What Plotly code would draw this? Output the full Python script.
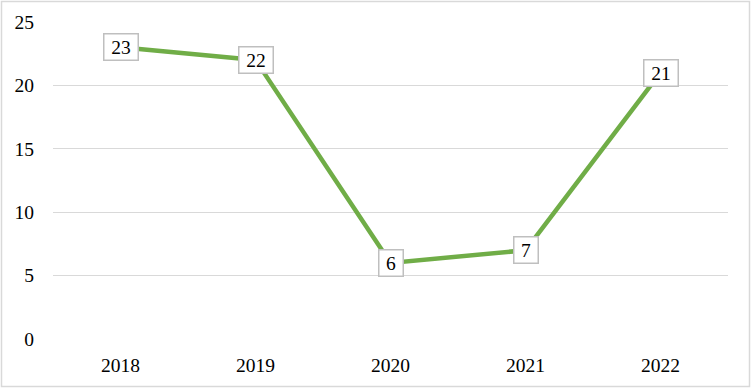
import plotly.graph_objects as go

years = ["2018", "2019", "2020", "2021", "2022"]
values = [23, 22, 6, 7, 21]
y_ticks = [0, 5, 10, 15, 20, 25]

FONT = "Liberation Serif"
FS = 19.5
W, H = 752, 389
L, R, T, B = 53, 24, 22, 50

fig = go.Figure()
fig.add_trace(go.Scatter(
    x=years, y=values, mode="lines",
    line=dict(color="#70AD47", width=4.5),
    hoverinfo="skip", showlegend=False,
))

for i, v in enumerate(values):
    fig.add_annotation(
        x=i, y=v, text=str(v), showarrow=False,
        xanchor="center", yanchor="middle",
        font=dict(family=FONT, size=FS, color="#000000"),
        bgcolor="#ffffff", bordercolor="#bfbfbf", borderwidth=1.5, borderpad=2,
        width=10 * len(str(v)) + 9,
    )

pw = W - L - R
ph = H - T - B
fig.add_shape(
    type="rect", xref="paper", yref="paper",
    x0=-(L - 1.5) / pw, x1=1 + (R - 2.5) / pw,
    y0=-(B - 2.5) / ph, y1=1 + (T - 1.5) / ph,
    line=dict(color="#d9d9d9", width=1.5), fillcolor="rgba(0,0,0,0)", layer="below",
)

fig.update_layout(
    width=W, height=H,
    margin=dict(l=L, r=R, t=T, b=B),
    paper_bgcolor="#ffffff", plot_bgcolor="#ffffff",
    font=dict(family=FONT, size=FS, color="#000000"),
    xaxis=dict(
        type="category", showgrid=False, zeroline=False, showline=False,
        ticks="", ticklabelstandoff=12, range=[-0.5, 4.5],
        tickfont=dict(family=FONT, size=FS, color="#000000"),
    ),
    yaxis=dict(
        range=[0, 25], tickvals=y_ticks, showgrid=True, gridcolor="#d9d9d9", gridwidth=1,
        zeroline=False, showline=False, ticks="", ticklabelstandoff=18,
        tickfont=dict(family=FONT, size=FS, color="#000000"),
    ),
)

fig.write_html("out.html", config={"displayModeBar": False},
               post_script="document.body.style.margin='0';")
